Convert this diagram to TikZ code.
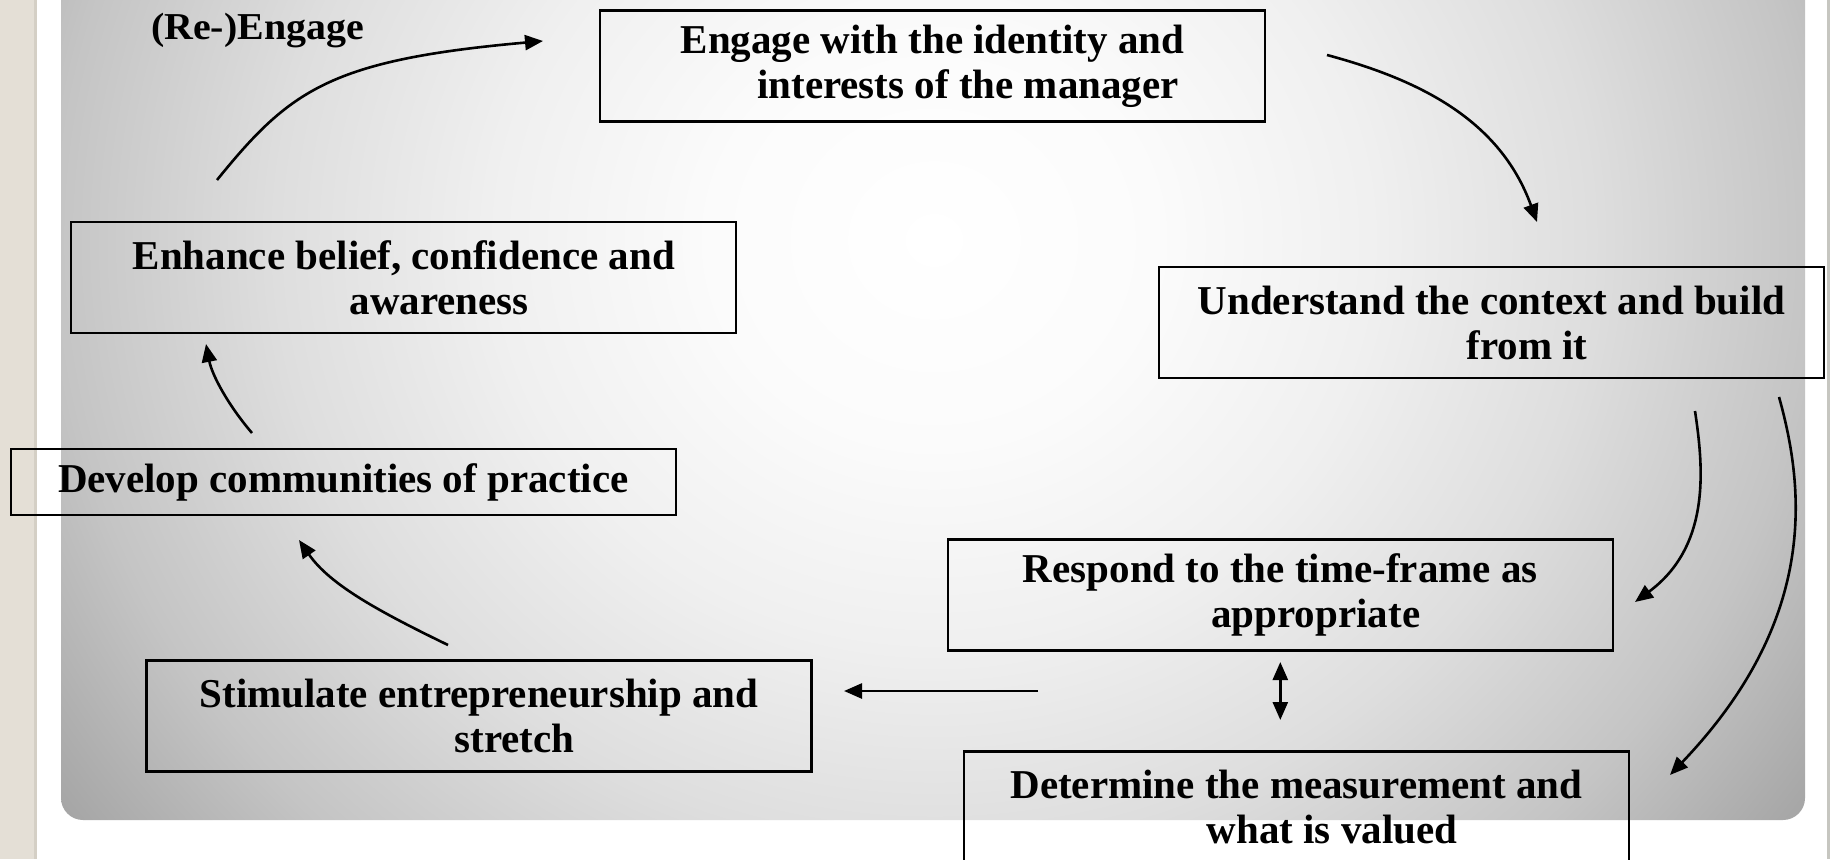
\documentclass[tikz,border=0pt]{standalone}
\usepackage{fontspec}
\setmainfont{Liberation Serif}
\newfontfamily\tagfont[FakeStretch=1.05]{Liberation Serif}
\usetikzlibrary{arrows.meta}

\definecolor{beige}{HTML}{E4DFD6}
\definecolor{beigeedge}{HTML}{D4CFC5}
\definecolor{rimgray}{HTML}{C6C6C0}

% soft light spot fading to grey towards the rim of the panel
\pgfdeclareradialshading{panelshade}{\pgfpoint{0bp}{0bp}}{%
  color(0bp)=(white);
  color(5bp)=(black!1.5);
  color(10bp)=(black!6);
  color(15bp)=(black!13);
  color(20bp)=(black!23);
  color(25bp)=(black!37);
  color(50bp)=(black!37)}

\newcommand\stepfont{\bfseries\fontsize{41}{45}\selectfont}
\newcommand\shiftline{\hspace*{71pt}}

\tikzset{
  stepbox/.style={draw=black, line width=2.2pt, minimum width=665pt,
    minimum height=111pt, inner sep=0pt, align=center, font=\stepfont},
  tip/.tip={Triangle[length=18pt,width=15pt]},
  flow/.style={line width=2.6pt, -tip},
  bothflow/.style={line width=2.6pt, tip-tip}
}

\begin{document}
\begin{tikzpicture}[x=1pt, y=-1pt]
\useasboundingbox (0,0) rectangle (1830,859);

% page and side strips
\fill[white] (0,0) rectangle (1830,859);
\fill[beige] (0,0) rectangle (34,859);
\fill[beigeedge] (34,0) rectangle (37,859);
\fill[rimgray] (1827,0) rectangle (1830,859);

% shaded panel
\begin{scope}
  \clip[rounded corners=22pt] (61,-40) rectangle (1805,820);
  \shade[shading=panelshade] (-166,-770) rectangle (2034,1250);
\end{scope}

% steps of the cycle
\node[stepbox] (engage) at (932.5,66)
  {Engage with the identity and\\\shiftline interests of the manager};
\node[stepbox] (context) at (1491.5,322.5)
  {Understand the context and build\\\shiftline from it};
\node[stepbox] (respond) at (1280.3,595)
  {Respond to the time-frame as\\\shiftline appropriate};
\node[stepbox] (measure) at (1296.5,807)
  {Determine the measurement and\\\shiftline what is valued};
\node[stepbox] (stimulate) at (479,716)
  {Stimulate entrepreneurship and\\\shiftline stretch};
\node[stepbox, minimum height=66pt] (develop) at (343.3,482)
  {Develop communities of practice};
\node[stepbox] (enhance) at (403.8,277.5)
  {Enhance belief, confidence and\\\shiftline awareness};

\node[anchor=base, inner sep=0pt, font=\tagfont\bfseries\fontsize{38}{44}\selectfont]
  (reengage) at (257.5,40) {(Re-)Engage};

% connector end points
\coordinate (reS) at (217,180);
\coordinate (reE) at (543,41);
\coordinate (enS) at (1327,55);
\coordinate (enE) at (1537,222);
\coordinate (coS) at (1695,411);
\coordinate (coE) at (1635,602);
\coordinate (cmS) at (1779,397);
\coordinate (cmE) at (1670,775);
\coordinate (rmS) at (1280.3,662);
\coordinate (rmE) at (1280.3,720);
\coordinate (rsS) at (1038,691);
\coordinate (rsE) at (844,691);
\coordinate (sdS) at (448,645);
\coordinate (sdE) at (299,540);
\coordinate (deS) at (252,433);
\coordinate (deE) at (206,344);

% connectors
\draw[flow] (reS) .. controls (290,90) and (330,60) .. (reE);
\draw[flow] (enS) .. controls (1420,80) and (1500,120) .. (enE);
\draw[flow] (coS) .. controls (1703,465) and (1712,545) .. (coE);
\draw[flow] (cmS) .. controls (1805,490) and (1818,620) .. (cmE);
\draw[bothflow] (rmS) -- (rmE);
\draw[flow] (rsS) -- (rsE);
\draw[flow] (sdS) .. controls (380,612) and (330,585) .. (sdE);
\draw[flow] (deS) .. controls (228,405) and (212,375) .. (deE);
\end{tikzpicture}
\end{document}
